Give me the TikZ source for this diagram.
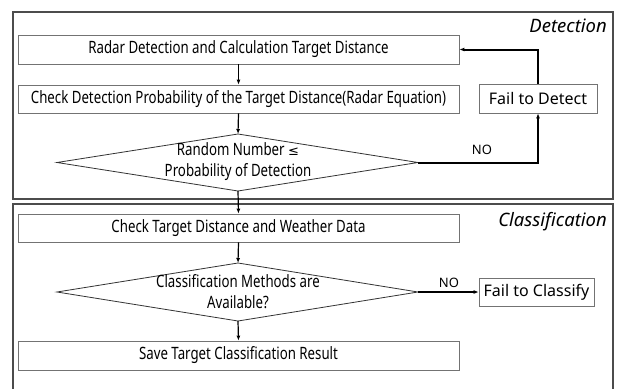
\documentclass[tikz,border=0pt]{standalone}
\usepackage{fontspec}
\setmainfont{Noto Sans}
\newfontfamily\condf[FakeStretch=0.78]{Noto Sans}
\newfontfamily\symf{DejaVu Sans}
\usetikzlibrary{arrows.meta}
\begin{document}
\begin{tikzpicture}[x=1pt,y=-1pt,
  outerbox/.style={draw=black!70, line width=1.6pt},
  stepbox/.style={draw=black!55, line width=0.7pt, minimum width=441pt, inner sep=0pt,
     font=\condf\fontsize{17}{20}\selectfont},
  failbox/.style={draw=black!55, line width=0.7pt, inner sep=0pt, font=\fontsize{16}{18}\selectfont},
  dec/.style={draw=black!80, line width=0.8pt},
  dtext/.style={align=center, inner sep=0pt, font=\condf\fontsize{17}{21}\selectfont},
  flow/.style={draw=black, line width=1.2pt, -{Latex[length=5pt,width=4pt]}},
  noflow/.style={draw=black, line width=2pt, -{Latex[length=5pt,width=4pt]}},
  lbl/.style={inner sep=0pt, font=\fontsize{13}{15}\selectfont},
  sect/.style={inner sep=0pt, anchor=east, font=\itshape\fontsize{18.5}{22}\selectfont}
]
\clip (0,0) rectangle (620,388);
\fill[white] (0,0) rectangle (620,388);

% section frames
\node[outerbox, anchor=north west, minimum width=600pt, minimum height=187pt, inner sep=0pt] (det) at (12,11) {};
\node[outerbox, anchor=north west, minimum width=600pt, minimum height=200pt, inner sep=0pt] (cls) at (12,203) {};
\node[sect] (detl) at (607,26) {Detection};
\node[sect] (clsl) at (607,222) {Classification};

% boxes
\node[stepbox, minimum height=29pt] (r1) at (238.5,49.5) {Radar Detection and Calculation Target Distance};
\node[stepbox, minimum height=28pt] (r2) at (238.5,99) {Check Detection Probability of the Target Distance(Radar Equation)};
\node[stepbox, minimum height=28pt] (r3) at (238.5,228) {Check Target Distance and Weather Data};
\node[stepbox, minimum height=29pt] (r4) at (238.5,355.5) {Save Target Classification Result};
\node[failbox, minimum width=118pt, minimum height=29pt] (fd) at (538,98.5) {Fail to Detect};
\node[failbox, minimum width=115pt, minimum height=28pt] (fc) at (536.5,292) {Fail to Classify};

% decision 1
\coordinate (d1t) at (238,134);
\coordinate (d1b) at (238,191);
\coordinate (d1l) at (57,162.5);
\coordinate (d1r) at (418,162.5);
\draw[dec] (d1t) -- (d1r) -- (d1b) -- (d1l) -- cycle;
\node[dtext] (d1) at (238,162) {Random Number {\symf\fontsize{13}{15}\selectfont ≤}\\Probability of Detection};

% decision 2
\coordinate (d2t) at (238,263);
\coordinate (d2b) at (238,321);
\coordinate (d2l) at (57,292);
\coordinate (d2r) at (418,292);
\draw[dec] (d2t) -- (d2r) -- (d2b) -- (d2l) -- cycle;
\node[dtext] (d2) at (238,292) {Classification Methods are\\Available?};

% connectors
\draw[flow] (r1.south) -- (r2.north);
\draw[flow] (r2.south) -- (d1t);
\draw[flow] (d1b) -- (r3.north);
\draw[flow] (r3.south) -- (d2t);
\draw[flow] (d2b) -- (r4.north);
\draw[noflow] (d1r) -| (fd.south);
\draw[noflow] (fd.north) |- (r1.east);
\draw[noflow] (d2r) -- (fc.west);

\node[lbl] (no1) at (482,150) {NO};
\node[lbl] (no2) at (449,283) {NO};
\end{tikzpicture}
\end{document}
